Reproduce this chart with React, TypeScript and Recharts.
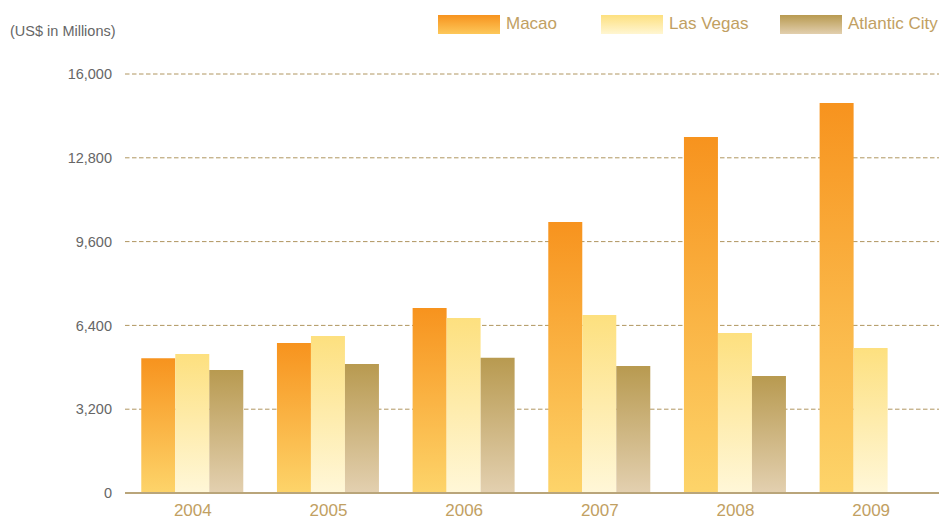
import { BarChart, Bar, XAxis, YAxis, CartesianGrid, Legend } from 'recharts';

const years = ['2004', '2005', '2006', '2007', '2008', '2009'];
const macao = [5150, 5730, 7060, 10350, 13590, 14890];
const lasVegas = [5310, 6000, 6680, 6800, 6110, 5540];
const atlanticCity = [4700, 4930, 5160, 4850, 4470, null];
const yTicks = [0, 3200, 6400, 9600, 12800, 16000];

const data = years.map((year, i) => ({
  year,
  macao: macao[i],
  lasVegas: lasVegas[i],
  atlanticCity: atlanticCity[i],
}));

const font = '"Liberation Sans", Arial, Helvetica, sans-serif';
const gold = '#c1a062';

const legendItems = [
  { name: 'Macao', bg: 'linear-gradient(#f7931e, #fdc85a)' },
  { name: 'Las Vegas', bg: 'linear-gradient(#fde07f, #fff6d2)' },
  { name: 'Atlantic City', bg: 'linear-gradient(#b89a50, #e2cfae)' },
];

function LegendBox() {
  return (
    <div style={{ position: 'relative', height: 24, fontFamily: font }}>
      {legendItems.map((item, i) => (
        <div
          key={item.name}
          style={{
            position: 'absolute',
            left: [438, 601, 780][i],
            top: 0,
            display: 'flex',
            alignItems: 'center',
          }}
        >
          <span style={{ width: 62, height: 19, background: item.bg, display: 'inline-block' }} />
          <span style={{ marginLeft: 6, fontSize: 17, color: gold }}>{item.name}</span>
        </div>
      ))}
    </div>
  );
}

export default function App() {
  return (
    <div style={{ position: 'absolute', left: 0, top: 0, width: 939, height: 519, fontFamily: font }}>
      <div style={{ position: 'absolute', left: 10, top: 23, fontSize: 14.5, color: '#666' }}>
        (US$ in Millions)
      </div>
      <BarChart
        width={939}
        height={519}
        data={data}
        margin={{ top: 74, right: 0, left: 0, bottom: 0 }}
        barGap={0}
        barCategoryGap="12%"
      >
        <defs>
          <linearGradient id="gMacao" x1="0" y1="0" x2="0" y2="1">
            <stop offset="0%" stopColor="#f7931e" />
            <stop offset="100%" stopColor="#fdd46a" />
          </linearGradient>
          <linearGradient id="gLV" x1="0" y1="0" x2="0" y2="1">
            <stop offset="0%" stopColor="#fde07f" />
            <stop offset="100%" stopColor="#fff7d8" />
          </linearGradient>
          <linearGradient id="gAC" x1="0" y1="0" x2="0" y2="1">
            <stop offset="0%" stopColor="#b89a50" />
            <stop offset="100%" stopColor="#e3d0b0" />
          </linearGradient>
        </defs>
        <CartesianGrid vertical={false} stroke="#b09660" strokeDasharray="4.5 2.5" />
        <XAxis
          dataKey="year"
          height={26}
          axisLine={{ stroke: '#b9a57a', strokeWidth: 2 }}
          tickLine={false}
          tick={{ fill: gold, fontSize: 17 }}
          tickMargin={5}
        />
        <YAxis
          width={125}
          domain={[0, 16000]}
          ticks={yTicks}
          axisLine={false}
          tickLine={false}
          tickSize={0}
          tickMargin={13}
          tick={{ fill: '#666', fontSize: 14.5 }}
          tickFormatter={(v: number) => v.toLocaleString('en-US')}
        />
        <Legend
          layout="horizontal"
          verticalAlign="middle"
          align="center"
          wrapperStyle={{ top: 14, left: 0, width: 939 }}
          content={() => <LegendBox />}
        />
        <Bar dataKey="macao" name="Macao" fill="url(#gMacao)" isAnimationActive={false} />
        <Bar dataKey="lasVegas" name="Las Vegas" fill="url(#gLV)" isAnimationActive={false} />
        <Bar dataKey="atlanticCity" name="Atlantic City" fill="url(#gAC)" isAnimationActive={false} />
      </BarChart>
    </div>
  );
}
